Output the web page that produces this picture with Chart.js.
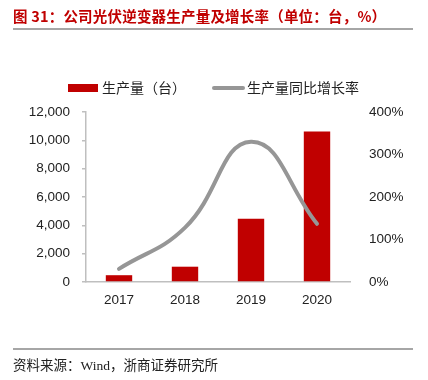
<!DOCTYPE html>
<html>
<head>
<meta charset="utf-8">
<script src="https://cdn.jsdelivr.net/npm/chart.js@4/dist/chart.umd.min.js"></script>
<style>
  html, body { margin: 0; padding: 0; background: #fff; }
  #wrap { position: relative; width: 428px; height: 380px; overflow: hidden; }
  #c { position: absolute; left: 0; top: 0; }
  .title { position: absolute; left: 13px; top: 5px; font: bold 14.5px "Noto Sans CJK SC", sans-serif; color: #c00000; white-space: nowrap; letter-spacing: 0.2px; }
  .rule { position: absolute; left: 13px; width: 400px; background: #a6a6a6; }
  .source { position: absolute; left: 13px; top: 354px; font: 13.5px "Liberation Serif", "Noto Sans CJK SC", serif; color: #222; white-space: nowrap; }
  .legend { position: absolute; top: 79px; left: 0; width: 428px; height: 18px; font: 14px "Liberation Sans", "Noto Sans CJK SC", sans-serif; color: #222; }
  .li { position: absolute; top: 0; white-space: nowrap; line-height: 18px; }
  .sw { position: absolute; }
</style>
</head>
<body>
<div id="wrap">
  <canvas id="c" width="428" height="380"></canvas>
  <div class="title">图 31：公司光伏逆变器生产量及增长率（单位：台，%）</div>
  <div class="rule" style="top:28px;height:2px;"></div>
  <div class="legend">
    <div class="sw" style="left:68px;top:5px;width:30px;height:8px;background:#c00000;"></div>
    <div class="li" id="l1" style="left:102px;"></div>
    <div class="sw" style="left:212px;top:7px;width:33px;height:4px;border-radius:2px;background:#969696;"></div>
    <div class="li" id="l2" style="left:247px;"></div>
  </div>
  <div class="rule" style="top:348px;height:2px;"></div>
  <div class="source">资料来源：Wind，浙商证券研究所</div>
</div>
<script>
const categories = ['2017', '2018', '2019', '2020'];
const production = [480, 1080, 4470, 10620];
const growthRate = [31, 128, 330, 137];
const seriesNames = ['生产量（台）', '生产量同比增长率'];
const leftTickMax = 12000;
const leftTickStep = 2000;
const rightTickMax = 400;
const rightTickStep = 100;

document.getElementById('l1').textContent = seriesNames[0];
document.getElementById('l2').textContent = seriesNames[1];

const tickFont = { family: '"Liberation Sans", Arial, sans-serif', size: 13.5 };
const axisGray = '#bfbfbf';

new Chart(document.getElementById('c'), {
  data: {
    labels: categories,
    datasets: [
      {
        type: 'bar',
        label: seriesNames[0],
        data: production,
        backgroundColor: '#c00000',
        borderWidth: 0,
        barPercentage: 0.4,
        categoryPercentage: 1.0,
        yAxisID: 'y',
        order: 2
      },
      {
        type: 'line',
        label: seriesNames[1],
        data: growthRate,
        borderColor: '#969696',
        borderWidth: 4,
        borderCapStyle: 'round',
        pointRadius: 0,
        tension: 0.45,
        fill: false,
        yAxisID: 'y1',
        order: 1
      }
    ]
  },
  options: {
    responsive: false,
    animation: false,
    devicePixelRatio: 1,
    layout: { padding: { top: 112, bottom: 68, left: 0, right: 0 } },
    plugins: { legend: { display: false }, tooltip: { enabled: false } },
    scales: {
      x: {
        grid: { display: false, drawTicks: false },
        border: { display: true, color: axisGray, width: 1.5 },
        ticks: { font: tickFont, color: '#222', padding: 10 },
        afterFit: (s) => { s.height = 30; }
      },
      y: {
        position: 'left',
        min: 0, max: leftTickMax,
        ticks: {
          stepSize: leftTickStep, font: tickFont, color: '#222', padding: 12,
          callback: (v) => v.toLocaleString('en-US')
        },
        grid: { display: true, drawOnChartArea: false, drawTicks: true, tickLength: 4, color: axisGray, lineWidth: 1.5 },
        border: { display: true, color: axisGray, width: 1.5 },
        afterFit: (s) => { s.width = 86; }
      },
      y1: {
        position: 'right',
        min: 0, max: rightTickMax,
        ticks: { stepSize: rightTickStep, font: tickFont, color: '#222', padding: 19, callback: (v) => v + '%' },
        grid: { display: false, drawTicks: false },
        border: { display: false },
        afterFit: (s) => { s.width = 78; }
      }
    }
  }
});
</script>
</body>
</html>
